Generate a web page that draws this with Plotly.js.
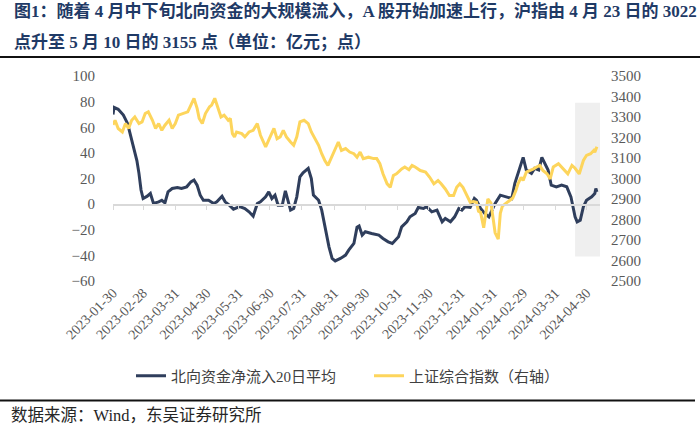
<!DOCTYPE html>
<html>
<head>
<meta charset="utf-8">
<script src="https://cdn.plot.ly/plotly-3.0.1.min.js"></script>
<style>
html,body{margin:0;padding:0;background:#fff;}
#chart{width:700px;height:427px;}
</style>
</head>
<body>
<div id="chart"></div>
<script>
// ---- data ----
const titleLine1 = "图1：随着 4 月中下旬北向资金的大规模流入，A 股开始加速上行，沪指由 4 月 23 日的 3022";
const titleLine2 = "点升至 5 月 10 日的 3155 点（单位：亿元；点）";
const sourceText = "数据来源：Wind，东吴证券研究所";
const seriesNames = ["北向资金净流入20日平均", "上证综合指数（右轴）"];

const tickDates = ["2023-01-30","2023-02-28","2023-03-31","2023-04-30","2023-05-31","2023-06-30","2023-07-31","2023-08-31","2023-09-30","2023-10-31","2023-11-30","2023-12-31","2024-01-31","2024-02-29","2024-03-31","2024-04-30"];

const northDates = ["2023-01-30","2023-01-31","2023-02-04","2023-02-09","2023-02-13","2023-02-16","2023-02-19","2023-02-22","2023-02-24","2023-02-26",
"2023-02-28","2023-03-04","2023-03-07","2023-03-10","2023-03-15","2023-03-18","2023-03-21","2023-03-24","2023-03-28","2023-04-02",
"2023-04-06","2023-04-11","2023-04-15","2023-04-18","2023-04-21","2023-04-24","2023-04-27","2023-05-02","2023-05-07","2023-05-10",
"2023-05-15","2023-05-18","2023-05-22","2023-05-26","2023-06-01","2023-06-06","2023-06-10","2023-06-14","2023-06-18","2023-06-21",
"2023-06-26","2023-06-29","2023-07-02","2023-07-05","2023-07-08","2023-07-12","2023-07-15","2023-07-17","2023-07-20","2023-07-23",
"2023-07-26","2023-07-29","2023-08-01","2023-08-06","2023-08-09","2023-08-11","2023-08-16","2023-08-19","2023-08-22","2023-08-26",
"2023-08-29","2023-09-01","2023-09-06","2023-09-11","2023-09-14","2023-09-19","2023-09-22","2023-09-24","2023-09-27","2023-09-30",
"2023-10-06","2023-10-13","2023-10-17","2023-10-22","2023-10-26","2023-10-29","2023-11-01","2023-11-04","2023-11-09","2023-11-12",
"2023-11-17","2023-11-20","2023-11-25","2023-11-28","2023-12-03","2023-12-08","2023-12-13","2023-12-16","2023-12-21","2023-12-25",
"2023-12-29","2024-01-01","2024-01-04","2024-01-09","2024-01-13","2024-01-15","2024-01-19","2024-01-23","2024-01-27","2024-01-30",
"2024-02-02","2024-02-07","2024-02-12","2024-02-18","2024-02-21","2024-02-24","2024-02-29","2024-03-03","2024-03-08","2024-03-11",
"2024-03-15","2024-03-18","2024-03-21","2024-03-24","2024-03-27","2024-04-01","2024-04-06","2024-04-11","2024-04-15","2024-04-19",
"2024-04-21","2024-04-24","2024-04-27","2024-04-30","2024-05-05","2024-05-08","2024-05-09","2024-05-10"];
const northValues = [70,75.5,74,69.5,63,52.6,43.5,34,24,11,
4.4,6.2,8.3,0.5,1.8,3,1,9.6,12.2,13,
12.2,13.5,17.4,18.8,14.8,7,3,3,0.5,1.8,
6.2,1.8,-0.8,-4,-2,-3.4,-6,-9.4,0.5,1.8,
5.7,9.6,4.4,7,-0.8,-0.8,10.4,4.4,-4.7,-3.4,
5.7,21.3,24.5,27.9,20,7,3,-4.7,-17.7,-33.3,
-42.4,-44.3,-42.4,-39.8,-35.9,-30.7,-18,-17,-24.2,-21.6,
-22.9,-24.2,-26.8,-29.4,-30.7,-28.1,-25.5,-17.7,-13.8,-9.9,
-7.3,-2.6,-3.4,-2,-6,-4.7,-13.8,-11.2,-13.8,-9.9,
-3.4,-4.7,-2,-2.6,4.4,3,-3.4,-7.3,-9.9,-4.7,
0.5,7,5.7,4.4,16.2,24,36.5,26.6,24,27.9,
26.6,36.5,31.8,26.6,14.8,13.5,14.8,13.5,5.7,-9.9,
-13.8,-12.5,-2,3,5.7,8.3,12.2,9.6];

const shDates = ["2023-01-30","2023-02-01","2023-02-04","2023-02-08","2023-02-11","2023-02-14","2023-02-17","2023-02-20","2023-02-24","2023-02-27",
"2023-03-02","2023-03-05","2023-03-09","2023-03-12","2023-03-15","2023-03-18","2023-03-21","2023-03-25","2023-03-28","2023-03-31",
"2023-04-03","2023-04-08","2023-04-12","2023-04-15","2023-04-18","2023-04-21","2023-04-23","2023-04-26","2023-04-29","2023-05-03",
"2023-05-05","2023-05-08","2023-05-11","2023-05-14","2023-05-17","2023-05-21","2023-05-23","2023-05-25","2023-05-27","2023-05-29",
"2023-06-03","2023-06-06","2023-06-10","2023-06-14","2023-06-18","2023-06-21","2023-06-26","2023-06-30","2023-07-04","2023-07-07",
"2023-07-10","2023-07-13","2023-07-16","2023-07-20","2023-07-23","2023-07-26","2023-07-29","2023-08-02","2023-08-06","2023-08-09",
"2023-08-13","2023-08-16","2023-08-19","2023-08-22","2023-08-25","2023-08-28","2023-09-01","2023-09-04","2023-09-07","2023-09-11",
"2023-09-15","2023-09-19","2023-09-22","2023-09-25","2023-09-28","2023-10-03","2023-10-08","2023-10-11","2023-10-14","2023-10-17",
"2023-10-21","2023-10-24","2023-10-27","2023-10-30","2023-11-04","2023-11-07","2023-11-11","2023-11-14","2023-11-17","2023-11-22",
"2023-11-27","2023-12-01","2023-12-05","2023-12-09","2023-12-12","2023-12-16","2023-12-20","2023-12-24","2023-12-27","2023-12-30",
"2024-01-02","2024-01-05","2024-01-09","2024-01-12","2024-01-15","2024-01-17","2024-01-19","2024-01-22","2024-01-24","2024-01-26",
"2024-01-29","2024-01-31","2024-02-02","2024-02-05","2024-02-07","2024-02-09","2024-02-14","2024-02-19","2024-02-22","2024-02-24",
"2024-02-27","2024-02-29","2024-03-03","2024-03-07","2024-03-10","2024-03-13","2024-03-16","2024-03-19","2024-03-23","2024-03-26",
"2024-03-29","2024-04-03","2024-04-08","2024-04-12","2024-04-16","2024-04-19","2024-04-23","2024-04-25","2024-04-27","2024-04-30",
"2024-05-04","2024-05-07","2024-05-08","2024-05-10"];
const shValues = [3262,3284,3244,3227,3268,3244,3284,3300,3268,3276,
3317,3325,3284,3244,3268,3235,3260,3284,3244,3268,
3309,3317,3325,3358,3391,3342,3293,3268,3317,3350,
3358,3391,3342,3300,3309,3284,3293,3219,3203,3227,
3219,3203,3227,3235,3268,3211,3154,3203,3244,3194,
3203,3235,3203,3178,3162,3203,3276,3284,3268,3227,
3186,3162,3121,3088,3064,3097,3137,3178,3137,3146,
3129,3121,3104,3129,3097,3104,3097,3097,3072,3023,
2974,2957,3015,3023,3047,3056,3043,3064,3056,3039,
3031,3006,2974,2990,2974,2949,2917,2917,2957,2974,
2957,2925,2884,2888,2884,2840,2835,2760,2825,2900,
2880,2795,2735,2704,2830,2865,2884,2905,2941,2974,
3006,2990,3031,3039,3047,3056,3064,3039,3023,2998,
3056,3072,3047,3023,3064,3050,3022,3056,3088,3113,
3121,3137,3128,3155];

const highlightStart = "2024-04-19", highlightEnd = "2024-05-15";
const highlightLow = 2620, highlightHigh = 3370;

// ---- chart ----
const serif = "'Liberation Serif', 'Noto Sans CJK SC', serif";
const traces = [
  {x: northDates, y: northValues, type: "scatter", mode: "lines", name: seriesNames[0],
   line: {color: "#2F3E5C", width: 3}, xaxis: "x", yaxis: "y"},
  {x: shDates, y: shValues, type: "scatter", mode: "lines", name: seriesNames[1],
   line: {color: "#FDD55C", width: 3}, xaxis: "x", yaxis: "y2"},
  // invisible helper so the zero-line axis (x2) is drawn
  {x: northDates, y: northValues, type: "scatter", mode: "lines", xaxis: "x2", yaxis: "y",
   line: {color: "rgba(0,0,0,0)", width: 0}, showlegend: false, hoverinfo: "skip"}
];
const P = (px) => (px - 113) / 487;
const Q = (py) => (281 - py) / 205;
const layout = {
  width: 700, height: 427,
  margin: {l: 113, r: 100, t: 76, b: 146},
  paper_bgcolor: "#ffffff", plot_bgcolor: "#ffffff",
  showlegend: true,
  legend: {orientation: "h", x: P(131), xanchor: "left", y: Q(376), yanchor: "middle",
    entrywidth: 193, entrywidthmode: "pixels",
    font: {family: serif, size: 15, color: "#404040"}, traceorder: "normal"},
  xaxis: {type: "date", range: ["2023-01-30", "2024-05-13"], tickmode: "array", tickvals: tickDates,
    ticktext: tickDates, tickangle: -45, showgrid: false, zeroline: false, showline: false, ticks: "",
    tickfont: {family: serif, size: 14, color: "#595959"}, automargin: false},
  xaxis2: {type: "date", overlaying: "x", matches: "x", anchor: "free", position: Q(204.3),
    tickmode: "array", tickvals: tickDates, showticklabels: false, showgrid: false, zeroline: false,
    showline: true, linecolor: "#D9D9D9", linewidth: 1.5, ticks: "outside", ticklen: 4, tickcolor: "#D9D9D9", tickwidth: 1},
  yaxis: {range: [-60, 100], dtick: 20, tick0: 0, showgrid: false, zeroline: false, showline: false,
    ticks: "outside", ticklen: 14, tickcolor: "rgba(0,0,0,0)",
    tickfont: {family: serif, size: 15, color: "#595959"}, automargin: false},
  yaxis2: {range: [2500, 3500], dtick: 100, overlaying: "y", side: "right", showgrid: false, zeroline: false,
    showline: false, ticks: "outside", ticklen: 7, tickcolor: "rgba(0,0,0,0)",
    tickfont: {family: serif, size: 15, color: "#595959"}, automargin: false},
  shapes: [
    {type: "rect", xref: "x", yref: "y2", x0: highlightStart, x1: highlightEnd, y0: highlightLow, y1: highlightHigh,
     fillcolor: "#EFEFEF", line: {width: 0}, layer: "below"},
    {type: "line", xref: "paper", yref: "paper", x0: P(0), x1: P(700), y0: Q(57), y1: Q(57), line: {color: "#111", width: 2}},
    {type: "line", xref: "paper", yref: "paper", x0: P(0), x1: P(695), y0: Q(400.5), y1: Q(400.5), line: {color: "#111", width: 2}}
  ],
  annotations: [
    {text: "<b>" + titleLine1 + "</b>", xref: "paper", yref: "paper", x: P(12), y: Q(11), xanchor: "left", yanchor: "middle",
     showarrow: false, font: {family: serif, size: 17, color: "#1F3A66"}},
    {text: "<b>" + titleLine2 + "</b>", xref: "paper", yref: "paper", x: P(12), y: Q(42), xanchor: "left", yanchor: "middle",
     showarrow: false, font: {family: serif, size: 17, color: "#1F3A66"}},
    {text: sourceText, xref: "paper", yref: "paper", x: P(9), y: Q(415), xanchor: "left", yanchor: "middle",
     showarrow: false, font: {family: serif, size: 16.5, color: "#262626"}}
  ]
};
Plotly.newPlot("chart", traces, layout, {displayModeBar: false, staticPlot: true});
</script>
</body>
</html>
